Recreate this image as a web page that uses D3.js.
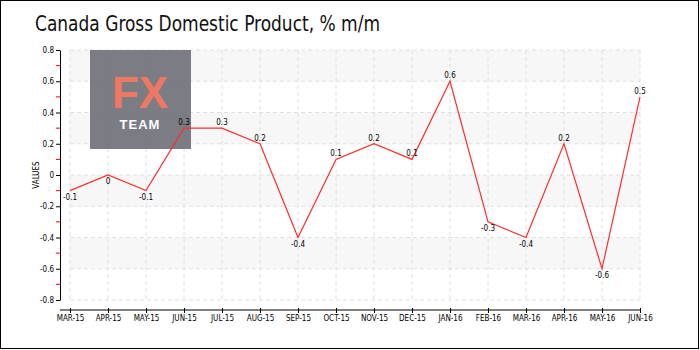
<!DOCTYPE html>
<html>
<head>
<meta charset="utf-8">
<script src="https://cdn.jsdelivr.net/npm/d3@7"></script>
<style>
  body { margin: 0; background: #fff; }
  svg { display: block; }
  .tick text { font-family: "DejaVu Sans Condensed", "DejaVu Sans", sans-serif; }
</style>
</head>
<body>
<svg id="chart" width="700" height="350"></svg>
<script>
const months = ["MAR-15", "APR-15", "MAY-15", "JUN-15", "JUL-15", "AUG-15", "SEP-15", "OCT-15",
                "NOV-15", "DEC-15", "JAN-16", "FEB-16", "MAR-16", "APR-16", "MAY-16", "JUN-16"];
const gdp = [-0.1, 0, -0.1, 0.3, 0.3, 0.2, -0.4, 0.1, 0.2, 0.1, 0.6, -0.3, -0.4, 0.2, -0.6, 0.5];
const yTicks = [-0.8, -0.6, -0.4, -0.2, 0, 0.2, 0.4, 0.6, 0.8];
const yMinor = [-0.7, -0.5, -0.3, -0.1, 0.1, 0.3, 0.5, 0.7];

const svg = d3.select("#chart");
const font = "'DejaVu Sans Condensed', 'DejaVu Sans', sans-serif";
const fmt = d => String(+d.toFixed(1));

svg.append("rect")
    .attr("x", 0.5).attr("y", 0.5)
    .attr("width", 698).attr("height", 348)
    .attr("fill", "#fff").attr("stroke", "#000");

svg.append("text")
    .attr("x", 35).attr("y", 31)
    .attr("font-family", font)
    .attr("font-size", 21)
    .attr("textLength", 345)
    .attr("lengthAdjust", "spacingAndGlyphs")
    .attr("fill", "#111")
    .text("Canada Gross Domestic Product, % m/m");

const x = d3.scalePoint().domain(months).range([70, 640]);
const y = d3.scaleLinear().domain([-0.8, 0.8]).range([300, 50]);

// alternating bands
const bands = d3.range(0, yTicks.length - 1).filter(i => i % 2 === 1);
svg.selectAll("rect.band")
    .data(bands)
    .enter().append("rect")
    .attr("class", "band")
    .attr("x", 70)
    .attr("width", 570)
    .attr("y", i => y(yTicks[i + 1]))
    .attr("height", i => y(yTicks[i]) - y(yTicks[i + 1]))
    .attr("fill", "#f7f7f7");

// grid
svg.selectAll("line.hgrid")
    .data(yTicks)
    .enter().append("line")
    .attr("x1", 70).attr("x2", 640)
    .attr("y1", d => y(d)).attr("y2", d => y(d))
    .attr("stroke", "#e0e0e0")
    .attr("stroke-dasharray", "4,3");

svg.selectAll("line.vgrid")
    .data(months)
    .enter().append("line")
    .attr("x1", d => x(d)).attr("x2", d => x(d))
    .attr("y1", 50).attr("y2", 300)
    .attr("stroke", "#e0e0e0")
    .attr("stroke-dasharray", "4,3");

// watermark
const wm = svg.append("g");
wm.append("rect")
    .attr("x", 90).attr("y", 50)
    .attr("width", 101).attr("height", 99)
    .attr("fill", "#72727b").attr("opacity", 0.93);
wm.append("text")
    .attr("x", 140).attr("y", 108)
    .attr("text-anchor", "middle")
    .attr("font-family", "'Liberation Sans', Arial, sans-serif")
    .attr("font-weight", "bold")
    .attr("font-size", 44)
    .attr("fill", "#f07862")
    .text("FX");
wm.append("text")
    .attr("x", 140).attr("y", 129)
    .attr("text-anchor", "middle")
    .attr("font-family", "'Liberation Sans', Arial, sans-serif")
    .attr("font-weight", "bold")
    .attr("font-size", 13)
    .attr("letter-spacing", 1)
    .attr("fill", "#fff")
    .text("TEAM");

// y axis
const yAxis = svg.append("g")
    .attr("transform", "translate(60,0)")
    .call(d3.axisLeft(y).tickValues(yTicks).tickSize(4).tickSizeOuter(0).tickFormat(fmt));
yAxis.select(".domain").attr("stroke", "#000");
yAxis.selectAll("text").attr("font-size", 8).attr("fill", "#000").attr("x", -6);

svg.selectAll("line.minor")
    .data(yMinor)
    .enter().append("line")
    .attr("x1", 56).attr("x2", 60)
    .attr("y1", d => y(d)).attr("y2", d => y(d))
    .attr("stroke", "#e00");

svg.append("text")
    .attr("transform", "translate(39," + y(0) + ") rotate(-90)")
    .attr("text-anchor", "middle")
    .attr("font-family", font)
    .attr("font-size", 8)
    .text("VALUES");

// x axis
const xAxis = svg.append("g")
    .attr("transform", "translate(0,310)")
    .call(d3.axisBottom(x).tickSize(3).tickSizeOuter(0));
xAxis.select(".domain").attr("d", "M60,0H640");
xAxis.selectAll(".tick line").attr("y1", -2);
xAxis.selectAll("text").attr("font-size", 8).attr("fill", "#000").attr("y", 5);

// line
const line = d3.line()
    .x((d, i) => x(months[i]))
    .y(d => y(d));

svg.append("path")
    .datum(gdp)
    .attr("d", line)
    .attr("fill", "none")
    .attr("stroke", "#ff2d2d")
    .attr("stroke-width", 1.2);

svg.selectAll("text.val")
    .data(gdp)
    .enter().append("text")
    .attr("class", "val")
    .attr("x", (d, i) => x(months[i]))
    .attr("y", d => d > 0 ? y(d) - 3 : y(d) + 9)
    .attr("text-anchor", "middle")
    .attr("font-family", font)
    .attr("font-size", 8)
    .attr("fill", "#000")
    .text(fmt);
</script>
</body>
</html>
